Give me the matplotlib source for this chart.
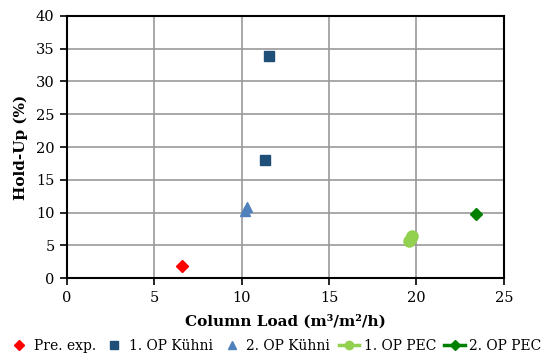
import matplotlib
matplotlib.use("Agg")
import matplotlib.pyplot as plt
from matplotlib.lines import Line2D

plt.rcParams["font.family"] = ["DejaVu Serif"]

# data
pre_x = [6.55]
pre_y = [1.9]

kuehni1_x = [11.35, 11.55]
kuehni1_y = [18.1, 33.9]

kuehni2_x = [10.2, 10.3]
kuehni2_y = [10.3, 10.8]

pec1_x = [19.6, 19.7, 19.75]
pec1_y = [5.7, 6.2, 6.5]

pec2_x = [23.4]
pec2_y = [9.8]

labels = ["Pre. exp.", "1. OP Kühni", "2. OP Kühni", "1. OP PEC", "2. OP PEC"]

fig = plt.figure(figsize=(5.5, 3.6), dpi=100)
ax = fig.add_axes([0.122, 0.227, 0.794, 0.729])

ax.plot(pre_x, pre_y, linestyle="none", marker="D", markersize=6,
        color="#FF0000")
ax.plot(kuehni1_x, kuehni1_y, linestyle="none", marker="s", markersize=7,
        color="#1F4E79")
ax.plot(kuehni2_x, kuehni2_y, linestyle="none", marker="^", markersize=7,
        color="#4F81BD")
ax.plot(pec1_x, pec1_y, linestyle="none", marker="o", markersize=8,
        color="#92D050")
ax.plot(pec2_x, pec2_y, linestyle="none", marker="D", markersize=6,
        color="#008000")

ax.set_xlim(0, 25)
ax.set_ylim(0, 40)
ax.set_xticks(range(0, 26, 5))
ax.set_yticks(range(0, 41, 5))
ax.grid(True, color="#999999", linewidth=1.2)
ax.set_axisbelow(True)
for s in ax.spines.values():
    s.set_color("black")
    s.set_linewidth(1.5)
ax.tick_params(direction="out", length=5, width=1.2, labelsize=10.5,
               colors="black", pad=4)

ax.set_xlabel("Column Load (m³/m²/h)", fontsize=11, fontweight="bold", labelpad=7)
ax.set_ylabel("Hold-Up (%)", fontsize=11, fontweight="bold", labelpad=6)

# legend: the PEC entries show a line through the marker
handles = [
    Line2D([], [], linestyle="none", marker="D", markersize=5, color="#FF0000"),
    Line2D([], [], linestyle="none", marker="s", markersize=6, color="#1F4E79"),
    Line2D([], [], linestyle="none", marker="^", markersize=6, color="#4F81BD"),
    Line2D([], [], linestyle="-", linewidth=2.5, marker="o", markersize=6, color="#92D050"),
    Line2D([], [], linestyle="-", linewidth=2.5, marker="D", markersize=5, color="#008000"),
]
fig.legend(handles, labels, loc="center", bbox_to_anchor=(0.5, 0.04), ncol=5,
           frameon=False, fontsize=10, handlelength=1.5, handletextpad=0.3,
           columnspacing=0.6, borderaxespad=0)

fig.savefig("out.png", dpi=100)
